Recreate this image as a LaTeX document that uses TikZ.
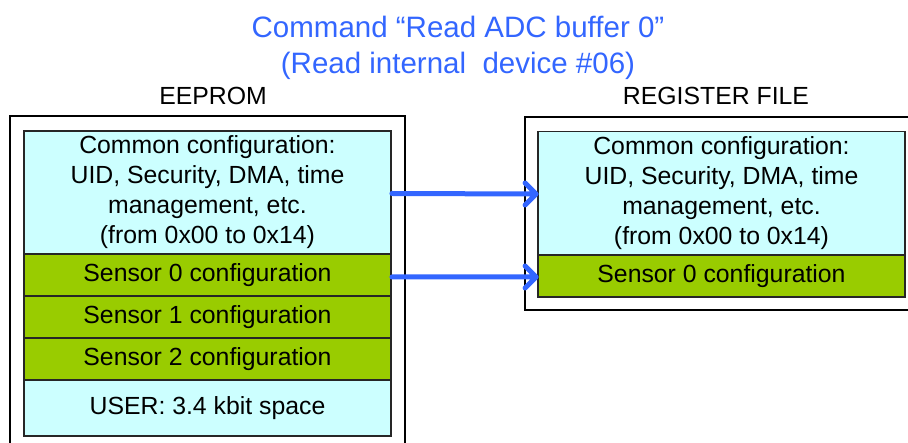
\documentclass[tikz,border=0pt]{standalone}
\usepackage{fontspec}
\setmainfont{Liberation Sans}
\definecolor{titleblue}{RGB}{51,102,255}
\definecolor{cellcyan}{RGB}{204,255,255}
\definecolor{cellgreen}{RGB}{153,204,0}
\begin{document}
\begin{tikzpicture}[x=1pt,y=-1pt,
  cell/.style={draw=black!85, line width=1.8pt, inner sep=0pt, align=center,
    minimum width=367pt, font=\fontsize{24.8}{30}\selectfont},
  common/.style={cell, fill=cellcyan, minimum height=123pt},
  sensor/.style={cell, fill=cellgreen, minimum height=42pt},
  frame/.style={draw=black, line width=1.4pt, fill=white},
  heading/.style={font=\fontsize{24.8}{30}\selectfont},
  copyarrow/.style={draw=titleblue, line width=5pt, line cap=round, line join=round}]
\useasboundingbox (0,0) rectangle (908,443);

% title
\node[font=\fontsize{29.5}{36}\selectfont, text=titleblue, align=center] (title) at (458,48)
  {Command “Read ADC buffer 0”\\(Read internal\ \ device \#06)};

% column headings
\node[heading] (eelabel) at (213,96) {EEPROM};
\node[heading] (rflabel) at (716,96) {REGISTER FILE};

% EEPROM memory map
\draw[frame] (10,116) rectangle (405,470);
\node[common] (ecommon) at (207.5,192.5)
  {Common configuration:\\UID, Security, DMA, time\\management, etc.\\(from 0x00 to 0x14)};
\node[sensor] (es0) at (207.5,275) {Sensor 0 configuration};
\node[sensor] (es1) at (207.5,317) {Sensor 1 configuration};
\node[sensor] (es2) at (207.5,359) {Sensor 2 configuration};
\node[cell, fill=cellcyan, minimum height=56pt] (euser) at (207.5,408) {USER: 3.4 kbit space};

% register file contents
\draw[frame] (525,117) rectangle (940,310);
\node[common] (rcommon) at (721.5,193)
  {Common configuration:\\UID, Security, DMA, time\\management, etc.\\(from 0x00 to 0x14)};
\node[sensor] (rs0) at (721.5,276) {Sensor 0 configuration};

% copy operations: shaft plus an open chevron head at the target edge
\coordinate (tipA) at ([shift={(-1pt,-1pt)}]rcommon.west);
\coordinate (tipB) at ([shift={(-1pt,-1pt)}]rs0.west);
\draw[copyarrow] ([yshift=-1pt]ecommon.east) -- (tipA)
  (tipA) ++(-11,-11) -- (tipA) -- ++(-11,11);
\draw[copyarrow] ([yshift=-2pt]es0.east) -- (tipB)
  (tipB) ++(-11,-11) -- (tipB) -- ++(-11,11);
\end{tikzpicture}
\end{document}
